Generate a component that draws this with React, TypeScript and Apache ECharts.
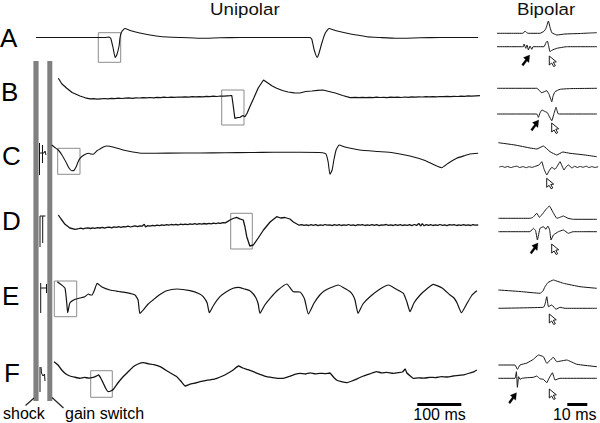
import React, { useEffect, useRef } from "react";
import * as echarts from "echarts";

// ---------- DATA (time in ms, potential in arbitrary units, up = positive) ----------
const rowLabels = ["A", "B", "C", "D", "E", "F"];
const panelTitles = ["Unipolar", "Bipolar"];
const eventLabels = ["shock", "gain switch"];
const scaleLabels = ["100 ms", "10 ms"];
const scaleValuesMs = [100, 10];

const uniA = [[0,0],[157,0],[166,0.4],[170,-1],[175,-10],[180,-20],[184,-17],[189,-8],[191,0],[195,6],[202,9],[214,7],[236,4.5],[259,2.5],[282,1],[327,0],[373,-0.8],[418,-0.3],[464,0],[623,0],[627,-2],[632,-12],[639,-19.8],[643,-16],[650,-5],[657,4],[666,9],[680,7],[707,4.2],[752,0.8],[782,0],[820,-0.8],[873,-0.3],[918,0],[1005,0]];

const uniB = [[50.7,18.7],[59,13],[70,8.7],[82,4.5],[100,1],[112,-0.8],[123,-1.9],[131,-1.6],[139,-2.1],[147,-1.8],[155,-1.5],[163,-1.9],[171,-1.4],[179,-1.6],[187,-1.1],[195,-1.5],[203,-1.2],[211,-0.9],[219,-1.3],[227,-0.8],[235,-1],[243,-0.6],[251,-0.9],[259,-0.5],[267,-0.8],[275,-0.3],[283,-0.6],[291,-0.2],[299,-0.5],[307,-0.1],[315,-0.4],[323,0],[331,-0.2],[339,0.2],[347,-0.1],[355,0.3],[363,0.1],[371,0.4],[379,0.2],[387,0.6],[395,0.4],[403,0.8],[411,0.5],[419,1],[427,0.8],[435,1.2],[441,1.3],[445,1.5],[448,-8],[452,-21.3],[459,-20.5],[464,-20.3],[470,-18.5],[475,-19.7],[480,-16],[486,-9.7],[495,-1],[505,9],[517,17],[527,14],[537,11],[547,8.7],[560,6.5],[573,5],[587,4.2],[600,4],[613,5.5],[627,6],[640,6.6],[652,7],[666,5.5],[680,4],[697,1.5],[714,-0.7],[726,-0.3],[734,-0.6],[742,-0.4],[750,-0.7],[758,-0.3],[766,-0.6],[774,-0.2],[782,-0.5],[790,-0.3],[798,-0.6],[806,-0.1],[814,-0.4],[822,-0.2],[830,-0.5],[838,0],[846,-0.3],[854,0.1],[862,-0.2],[870,0.2],[878,0],[886,0.3],[894,0.1],[902,0.4],[910,0.2],[918,0.5],[926,0.3],[934,0.6],[942,0.4],[950,0.7],[958,0.5],[966,0.9],[974,0.7],[982,1.1],[990,0.9],[1000,1.2],[1009,1.3]];

const uniC = [[35.7,7.5],[43,5],[50.7,2.5],[59,-2.5],[68,-9.5],[75,-15.5],[81,-18.2],[86,-18],[91,-14.5],[95.5,-9.5],[100,-5.8],[109,-2.5],[119,-0.8],[125,-1.5],[130,-1.8],[138,1.5],[145.5,3.5],[153,5.5],[161,6.5],[175,5.5],[198,2.5],[220,0.5],[243,-0.8],[300,-0.6],[373,-0.5],[430,-0.2],[486,0],[540,0.2],[600,0.2],[652,-0.2],[659,-1.5],[664,-9.5],[668,-21.8],[673,-17.5],[677,-7.5],[682,2.5],[689,7.5],[702,5.5],[736,2.5],[777,1],[811,-0.2],[850,-3.5],[884,-8],[922,-15.2],[936,-11],[956,-5.8],[975,-3],[986,-1.5],[1005,-0.8]];

const uniD = [[50.7,9],[57,5],[66,-0.3],[77,-4],[89,-5.3],[97,-4.6],[102,-4.1],[107,-4.9],[113,-4.2],[118,-3.8],[124,-4.5],[129,-3.9],[134,-4.4],[140,-3.6],[145,-4],[151,-3.3],[156,-4.1],[161,-3.4],[167,-3.1],[172,-3.8],[177,-2.9],[183,-3.4],[188,-2.7],[193,-3.3],[199,-2.6],[204,-2.9],[209,-2.2],[215,-3],[220,-2.3],[225,-1.9],[231,-2.7],[236,-1.8],[241,-2.2],[246,-0.2],[249,-3],[254,-1.6],[259,-2.1],[265,-1.3],[270,-1.9],[275,-1.1],[281,-1.6],[286,-0.8],[291,-1.4],[297,-0.7],[302,-1.2],[307,-0.5],[313,-0.9],[318,-0.4],[323,-1],[329,-0.2],[334,-0.7],[339,-0.1],[345,-0.6],[350,0.1],[355,-0.4],[361,0.3],[366,-0.3],[371,0.4],[377,-0.1],[382,0.5],[387,0],[393,0.7],[398,0.2],[403,0.8],[409,0.3],[414,1],[419,0.6],[425,1.4],[430,1.1],[436,2.6],[441,4],[448,5.5],[456,6.7],[463,5.2],[471,4],[475,-3],[479,-12.7],[486,-22],[494,-21],[505,-14],[517,-6],[532,2],[547,7.3],[556,6],[566,6.5],[577,5],[585,2],[593,0],[598,-1.2],[604,-0.6],[609,-1.4],[614,-0.8],[620,-1.5],[625,-0.7],[630,-1.3],[636,-0.6],[641,-1.6],[646,-0.9],[652,-1.4],[657,-0.5],[662,-1.2],[668,-0.8],[673,-1.6],[678,-0.7],[684,-1.3],[689,-0.6],[694,-1.5],[700,-0.9],[705,-1.3],[710,-0.5],[716,-1.4],[721,-0.8],[726,-1.6],[732,-0.7],[737,-1.2],[742,-0.6],[748,-1.5],[753,-0.9],[758,-1.4],[764,-0.6],[769,-1.3],[774,-0.7],[780,-1.6],[785,-0.8],[790,-1.2],[796,-0.5],[801,-1.4],[806,-0.8],[812,-1.5],[817,-0.6],[822,-1.3],[828,-0.7],[833,-1.5],[838,-0.9],[844,-1.3],[849,-0.6],[854,-1.6],[860,-0.5],[865,-1.4],[870,0.6],[874,-2],[878,0.3],[882,-1.8],[887,-0.6],[892,-1.3],[897,-0.7],[902,-1.5],[908,-0.8],[913,-1.3],[918,-0.5],[924,-1.4],[929,-0.8],[934,-1.6],[940,-0.7],[945,-1.2],[950,-0.6],[956,-1.5],[961,-0.9],[966,-1.3],[972,-0.6],[977,-1.4],[982,-0.8],[988,-1.5],[993,-0.7],[998,-1.2],[1005,-1]];

const uniE = [[48.4,13.3],[58.4,10],[66,6.7],[70,-8.3],[72,-17.7],[77,-8],[89,-4.3],[100,-3],[111,-1.7],[119,1],[123,0.2],[127,0],[133,5],[139,11.7],[150,8],[168,5],[188,3.5],[206,2.3],[225,0],[232,-5],[236,-18.3],[245,-14.3],[255,-9],[266,-5],[280,0],[297,4.3],[320,6],[350,4.3],[372,1],[380,-1.7],[389,-8],[394,-17.7],[404,-10],[418,-1.7],[432,3],[448,6.7],[460,7.7],[474,6],[486,4.3],[494,1],[500,-3],[505,-9],[509,-18.3],[520,-10],[532,-3.3],[550,5],[570,11],[585,3.3],[600,3],[607,-1],[611,-5],[619,-19],[632,-8],[645,0],[655,4],[668,7],[687,10],[700,7],[714,3.3],[720,0],[725,-5],[732,-18.3],[743,-9],[759,-1.7],[782,6],[801,10],[818,6],[835,1.7],[843,-7],[850,-16.7],[859,-8],[873,0],[888,6],[903,10.7],[923,7],[941,0],[950,-3],[957,-8],[967,-17.7],[980,-8],[991,0],[1002,4.3]];

const uniF = [[41,15.3],[50,12],[58.4,7],[68,3],[77,1],[88,-0.2],[100,-1.3],[110,-0.4],[120,-1.1],[130,-0.3],[137,0.8],[142,2],[147,-1],[153,-6.3],[158,-11],[164,-14.7],[170,-14],[176,-12.3],[186,-6],[198,0.3],[210,5.5],[221,10.3],[232,13],[244,14.3],[256,13.2],[268,12.4],[282,10.3],[300,5.5],[320,0.3],[330,-4.5],[339,-9],[350,-7.2],[362,-6],[373,-4.7],[385,-3.6],[398,-2.7],[411,-1.3],[424,1],[436,3.8],[448,7],[460,11],[470,9],[482,7.3],[494,5.3],[509,2.6],[524,0.3],[537,-0.6],[550,-1.3],[562,-1.3],[575,0.5],[588,2.6],[600,3.7],[612,3],[623,4.2],[635,3.2],[645,3.7],[657,3.4],[668,4],[675,0.5],[683,-3],[694,-4.6],[706,-5.7],[718,-4],[731,-1.6],[744,1],[759,3.2],[774,5.3],[786,4.2],[797,4.7],[812,3.7],[824,4.3],[833,5],[839,8],[843,4],[850,1.2],[857,-1.3],[870,-0.8],[882,-1.2],[895,-0.3],[908,-0.6],[921,0.4],[935,0],[948,1],[961,1.6],[974,2.4],[986,4],[995,5.2],[1002,7]];

const bipATop = [[0,0],[13,0],[14,2.3],[14.9,0.6],[15.5,0],[21.5,0],[23.5,2],[24.5,5],[25.7,12.3],[26.5,6],[27.4,0.6],[29.9,-1.7],[34,-0.7],[41.5,-0.2],[46.5,0.3],[49.9,0.6]];
const bipABot = [[0,0],[13.2,0],[13.5,2.7],[14.4,-1.6],[15,1.7],[15.7,-3.3],[16.5,0.7],[17.4,-2.6],[18,0],[23.5,0],[24.5,4],[25.2,5.7],[25.8,1],[26.5,-5],[27.5,-3.5],[29.9,-1.6],[34.9,0],[50,0]];
const bipBTop = [[0,0],[19.9,0],[22.4,-4.4],[24.9,-2.4],[26,-6],[27.4,-13.4],[28,-8],[29,-3.4],[31.5,-1],[36.5,-0.3],[50,0]];
const bipBBot = [[0,0],[19.9,0],[20.7,-3.3],[21.5,1],[22.4,4],[24,2.5],[25.2,1.3],[26,-2],[27.4,-6.7],[28.3,-1],[29.5,6.7],[30.7,0],[50,0]];
const bipCTop = [[0.7,6.3],[9,4],[16.5,1],[19.9,0],[23.2,3],[26.5,-2.7],[29.9,-6],[32.9,-3],[36.5,-4.3],[44,-6],[49.9,-7.7]];
const bipCBot = [[1.2,0],[2.5,0.7],[4,-0.4],[5.2,0.5],[7,-0.6],[8.4,0.3],[10,0.8],[11.3,-0.5],[13,0.4],[14.6,-0.7],[16,0.3],[17.5,-0.4],[19,0.6],[21,2],[22.4,5.3],[23.5,-2],[24.9,-8],[26,-4],[27.4,-0.3],[29,-2.3],[30.2,1],[31.5,5.3],[33.5,-3],[34.5,0],[35.7,2],[37.5,-1],[38.8,0.7],[40.3,-0.5],[41.5,0.6],[43,-0.3],[44.6,0.8],[46,-0.6],[47.4,0.4],[49,-0.5],[50.6,0.3]];
const bipDTop = [[0.7,0],[16.5,0],[18,1],[19.9,5],[21.2,1],[23,5],[24.5,9],[26.2,12.3],[28,6],[29.9,0],[31.5,1],[33.2,2.3],[35.5,0],[38.2,-1],[49.9,-1]];
const bipDBot = [[0.7,0],[16.5,0],[18.2,3.4],[19.3,1],[20.2,-8.3],[21.5,3.4],[23.2,5],[24.5,2.4],[25.4,5.7],[26.3,2],[27,-8.3],[28.2,-3.3],[30.7,0],[33.2,1.7],[35.7,-1.6],[38,0],[50,0]];
const bipETop = [[0.7,-2],[11.5,-3.5],[21.5,-5.3],[23,-3],[24,1.3],[25.5,5.5],[28.2,8],[30.5,6.5],[33.2,4.7],[41.5,1.3],[49.9,-0.3]];
const bipEBot = [[0.7,0],[23.2,1],[24,4],[24.9,11.6],[25.7,1.6],[26.5,2.5],[27.4,3.3],[29.5,-1],[31.5,1],[34,0],[50,0]];
const bipFTop = [[0.7,0],[9,0],[10.2,-4.3],[11.5,0],[15,2],[18.2,5.7],[20.7,10],[23.2,8.3],[24.9,1.7],[28.2,7.7],[29.9,3.3],[34.9,5],[39.9,0.7],[49.9,-1.7]];
const bipFBot = [[0.7,0],[9,0],[9.7,6.6],[10.2,-9],[10.8,1.6],[11.5,-1],[12.4,0],[14.5,0.5],[18.2,1],[19.9,2.3],[21.5,-0.5],[23.2,-1],[24.9,-4.4],[26,0],[27.7,5.6],[29,-1.7],[31.5,0],[50,0]];

const unipolarTraces = [uniA, uniB, uniC, uniD, uniE, uniF];
const bipolarTraces = [[bipATop, bipABot], [bipBTop, bipBBot], [bipCTop, bipCBot], [bipDTop, bipDBot], [bipETop, bipEBot], [bipFTop, bipFBot]];

// ---------- LAYOUT (pixels) ----------
const UNI_LEFT = 36, UNI_PX_PER_MS = 0.44, UNI_XMAX = 1010, UNI_HALF = 30;
const BIP_LEFT = 497, BIP_PX_PER_MS = 2, BIP_XMAX = 51, BIP_HALF = 15;
const uniBaselines = [37.5, 97, 152.5, 224, 295, 377];
const uniWidths = [1.1, 1.2, 1.1, 1.3, 1.2, 1.3];
const uniSmooth = [0.15, 0, 0.15, 0, 0.15, 0.1];
const bipBaselines = [[33.3, 46.7], [88.3, 114], [149, 167], [218.3, 231.7], [288, 308.3], [365, 378.3]];
const letterPos = [[0, 37.5], [1, 92], [2, 156], [2, 221], [2, 296], [4, 373]];
const boxes = [[98.3, 32.7, 22.4, 29.6], [221.7, 90, 22.3, 35], [57.7, 148.3, 22.3, 26], [230.7, 213.3, 21.6, 35.7], [54.3, 281, 22.4, 35.7], [90.7, 370.7, 21.6, 26.6]];
const filledArrows = [[521.7, 55], [530.7, 120], [530, 243], [508.5, 392.7]];
const openArrows = [[549.3, 56], [551.7, 123], [546.7, 178.3], [551.7, 244], [549.3, 314], [549.3, 389]];
const artifacts = [
  [[39.5, 143], [39.5, 175]], [[42.5, 145], [42.5, 163]], [[39.5, 153], [44, 153], [45, 151], [46, 155]],
  [[40, 216], [40, 247]], [[42.7, 216], [42.7, 243]], [[40, 216], [45.5, 216]],
  [[40.7, 283], [40.7, 313]], [[40.7, 288], [46.5, 288]], [[46.5, 284], [46.5, 293]],
  [[40, 367], [40, 392]], [[41, 367], [41.5, 373], [43, 376], [44.5, 374], [45, 381]],
];

echarts.graphic.registerShape(
  "arrowFilled",
  echarts.graphic.extendPath("M8 0 L1.8 2.6 L3.8 4.4 L0 9.6 L1.6 11 L5.3 5.9 L7.2 7.5 Z", {})
);
echarts.graphic.registerShape(
  "arrowOpen",
  echarts.graphic.extendPath("M0 0 L0 9 L2.4 7 L4.4 10.5 L6 9.7 L4.1 6.2 L7 5.8 Z", {})
);

const FONT = "Liberation Sans, Arial, sans-serif";
const INK = "#141414";

function buildOption() {
  const grid: any[] = [];
  const xAxis: any[] = [];
  const yAxis: any[] = [];
  const series: any[] = [];
  const add = (data: number[][], left: number, pxPerMs: number, xmax: number, base: number, half: number, width: number, smooth: number) => {
    const i = grid.length;
    grid.push({ left, top: base - half, width: xmax * pxPerMs, height: half * 2, containLabel: false });
    xAxis.push({ type: "value", gridIndex: i, min: 0, max: xmax, show: false });
    yAxis.push({ type: "value", gridIndex: i, min: -half, max: half, show: false });
    series.push({
      type: "line", xAxisIndex: i, yAxisIndex: i, data, symbol: "none", showSymbol: false,
      silent: true, clip: false, lineStyle: { color: INK, width }, smooth: smooth || false,
    });
  };
  unipolarTraces.forEach((d, r) => add(d, UNI_LEFT, UNI_PX_PER_MS, UNI_XMAX, uniBaselines[r], UNI_HALF, uniWidths[r], uniSmooth[r]));
  bipolarTraces.forEach((pair, r) => {
    add(pair[0], BIP_LEFT, BIP_PX_PER_MS, BIP_XMAX, bipBaselines[r][0], BIP_HALF, 1, 0.1);
    add(pair[1], BIP_LEFT, BIP_PX_PER_MS, BIP_XMAX, bipBaselines[r][1], BIP_HALF, 1, 0.1);
  });

  const g: any[] = [];
  g.push({ type: "text", x: 210, y: 9.5, scaleX: 1.1, style: { text: panelTitles[0], font: `17px ${FONT}`, fill: "#111", textAlign: "left", textVerticalAlign: "middle" } });
  g.push({ type: "text", x: 517, y: 9.5, scaleX: 1.1, style: { text: panelTitles[1], font: `17px ${FONT}`, fill: "#111", textAlign: "left", textVerticalAlign: "middle" } });
  rowLabels.forEach((l, i) => {
    g.push({ type: "text", x: letterPos[i][0], y: letterPos[i][1], style: { text: l, font: `26px ${FONT}`, fill: "#000", textAlign: "left", textVerticalAlign: "middle" } });
  });
  // gray event bars
  g.push({ type: "rect", shape: { x: 33.4, y: 61, width: 5.2, height: 340 }, style: { fill: "#808080" } });
  g.push({ type: "rect", shape: { x: 47.3, y: 61, width: 5, height: 340 }, style: { fill: "#808080" } });
  g.push({ type: "line", shape: { x1: 34, y1: 398, x2: 25.5, y2: 405.5 }, style: { stroke: "#222", lineWidth: 1.2 } });
  g.push({ type: "line", shape: { x1: 52, y1: 397.5, x2: 63.5, y2: 408 }, style: { stroke: "#222", lineWidth: 1.2 } });
  g.push({ type: "text", x: 3, y: 413.5, style: { text: eventLabels[0], font: `16px ${FONT}`, fill: "#000", textAlign: "left", textVerticalAlign: "middle" } });
  g.push({ type: "text", x: 65, y: 413.5, style: { text: eventLabels[1], font: `16px ${FONT}`, fill: "#000", textAlign: "left", textVerticalAlign: "middle" } });
  artifacts.forEach((pts) => {
    g.push({ type: "polyline", shape: { points: pts }, style: { stroke: INK, lineWidth: 1, fill: null } });
  });
  boxes.forEach((b) => {
    g.push({ type: "rect", shape: { x: b[0], y: b[1], width: b[2], height: b[3] }, style: { fill: null, stroke: "#8c8c8c", lineWidth: 1 } });
  });
  filledArrows.forEach((a) => g.push({ type: "arrowFilled", x: a[0], y: a[1], style: { fill: "#000", stroke: "#000", lineWidth: 0.3 } }));
  openArrows.forEach((a) => g.push({ type: "arrowOpen", x: a[0], y: a[1], style: { fill: "#fff", stroke: "#000", lineWidth: 0.9 } }));
  // scale bars
  const uniBar = scaleValuesMs[0] * UNI_PX_PER_MS;
  const bipBar = scaleValuesMs[1] * BIP_PX_PER_MS;
  g.push({ type: "rect", shape: { x: 417.3, y: 403, width: uniBar, height: 3 }, style: { fill: "#000" } });
  g.push({ type: "rect", shape: { x: 567.3, y: 403, width: bipBar, height: 3 }, style: { fill: "#000" } });
  g.push({ type: "text", x: 439.5, y: 414.5, style: { text: scaleLabels[0], font: `16px ${FONT}`, fill: "#000", textAlign: "center", textVerticalAlign: "middle" } });
  g.push({ type: "text", x: 574.7, y: 414.5, style: { text: scaleLabels[1], font: `16px ${FONT}`, fill: "#000", textAlign: "center", textVerticalAlign: "middle" } });

  return { animation: false, backgroundColor: "#fff", grid, xAxis, yAxis, series, graphic: g };
}

export default function App() {
  const ref = useRef<HTMLDivElement>(null);
  useEffect(() => {
    document.body.style.margin = "0";
    if (!ref.current) return;
    const chart = echarts.init(ref.current, undefined, { renderer: "svg" });
    chart.setOption(buildOption() as any);
    return () => chart.dispose();
  }, []);
  return <div ref={ref} style={{ position: "absolute", left: 0, top: 0, width: 600, height: 423, background: "#fff" }} />;
}
